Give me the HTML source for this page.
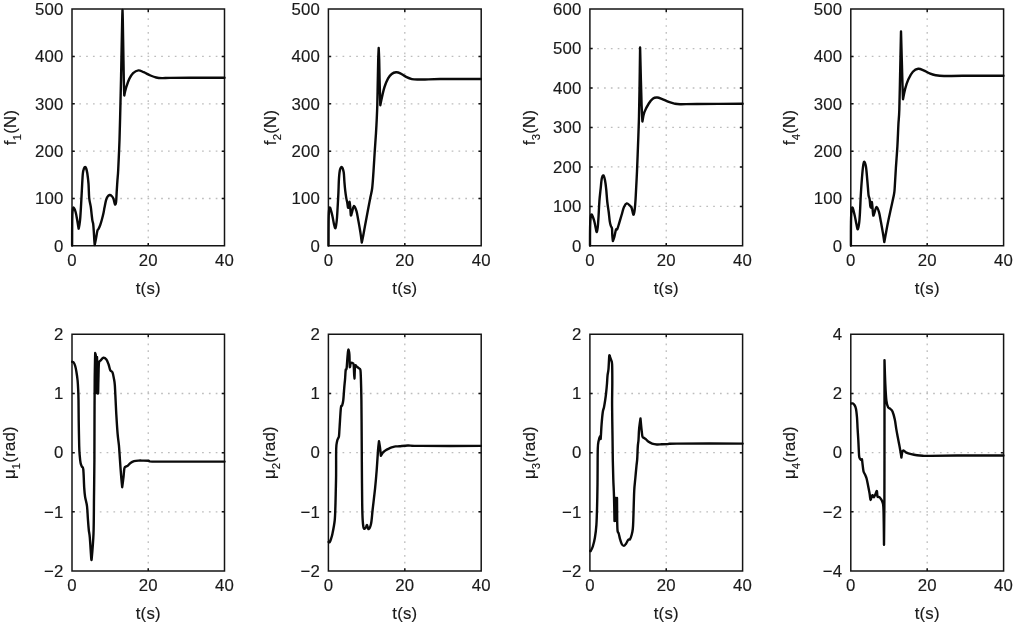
<!DOCTYPE html>
<html><head><meta charset="utf-8"><title>Figure</title>
<style>html,body{margin:0;padding:0;background:#fff;overflow:hidden}svg{display:block;filter:grayscale(1)}</style>
</head><body>
<svg width="1013" height="623" viewBox="0 0 1013 623">
<rect width="1013" height="623" fill="#fff"/>
<path d="M72.00 198.50H224.50M72.00 151.15H224.50M72.00 103.80H224.50M72.00 56.45H224.50M328.40 198.50H481.20M328.40 151.15H481.20M328.40 103.80H481.20M328.40 56.45H481.20M589.90 206.39H742.60M589.90 166.93H742.60M589.90 127.47H742.60M589.90 88.02H742.60M589.90 48.56H742.60M850.80 198.50H1003.60M850.80 151.15H1003.60M850.80 103.80H1003.60M850.80 56.45H1003.60M72.00 511.82H224.50M72.00 452.65H224.50M72.00 393.48H224.50M328.40 511.82H481.20M328.40 452.65H481.20M328.40 393.48H481.20M589.90 511.82H742.60M589.90 452.65H742.60M589.90 393.48H742.60M850.80 511.82H1003.60M850.80 452.65H1003.60M850.80 393.48H1003.60" stroke="#bdbdbd" stroke-width="1.3" stroke-dasharray="1.7 5.12" stroke-dashoffset="-0.5" fill="none"/>
<path d="M148.25 9.10V245.85M404.80 9.10V245.85M666.25 9.10V245.85M927.20 9.10V245.85M148.25 334.30V571.00M404.80 334.30V571.00M666.25 334.30V571.00M927.20 334.30V571.00" stroke="#bdbdbd" stroke-width="1.3" stroke-dasharray="1.7 5.12" stroke-dashoffset="4.4" fill="none"/>
<path d="M72.00 9.10H224.50V245.85H72.00ZM328.40 9.10H481.20V245.85H328.40ZM589.90 9.10H742.60V245.85H589.90ZM850.80 9.10H1003.60V245.85H850.80ZM72.00 334.30H224.50V571.00H72.00ZM328.40 334.30H481.20V571.00H328.40ZM589.90 334.30H742.60V571.00H589.90ZM850.80 334.30H1003.60V571.00H850.80Z" stroke="#141414" stroke-width="1.5" fill="none"/>
<path d="M148.25 245.85v-2.8M148.25 9.10v2.8M72.00 198.50h2.8M224.50 198.50h-2.8M72.00 151.15h2.8M224.50 151.15h-2.8M72.00 103.80h2.8M224.50 103.80h-2.8M72.00 56.45h2.8M224.50 56.45h-2.8M404.80 245.85v-2.8M404.80 9.10v2.8M328.40 198.50h2.8M481.20 198.50h-2.8M328.40 151.15h2.8M481.20 151.15h-2.8M328.40 103.80h2.8M481.20 103.80h-2.8M328.40 56.45h2.8M481.20 56.45h-2.8M666.25 245.85v-2.8M666.25 9.10v2.8M589.90 206.39h2.8M742.60 206.39h-2.8M589.90 166.93h2.8M742.60 166.93h-2.8M589.90 127.47h2.8M742.60 127.47h-2.8M589.90 88.02h2.8M742.60 88.02h-2.8M589.90 48.56h2.8M742.60 48.56h-2.8M927.20 245.85v-2.8M927.20 9.10v2.8M850.80 198.50h2.8M1003.60 198.50h-2.8M850.80 151.15h2.8M1003.60 151.15h-2.8M850.80 103.80h2.8M1003.60 103.80h-2.8M850.80 56.45h2.8M1003.60 56.45h-2.8M148.25 571.00v-2.8M148.25 334.30v2.8M72.00 511.82h2.8M224.50 511.82h-2.8M72.00 452.65h2.8M224.50 452.65h-2.8M72.00 393.48h2.8M224.50 393.48h-2.8M404.80 571.00v-2.8M404.80 334.30v2.8M328.40 511.82h2.8M481.20 511.82h-2.8M328.40 452.65h2.8M481.20 452.65h-2.8M328.40 393.48h2.8M481.20 393.48h-2.8M666.25 571.00v-2.8M666.25 334.30v2.8M589.90 511.82h2.8M742.60 511.82h-2.8M589.90 452.65h2.8M742.60 452.65h-2.8M589.90 393.48h2.8M742.60 393.48h-2.8M927.20 571.00v-2.8M927.20 334.30v2.8M850.80 511.82h2.8M1003.60 511.82h-2.8M850.80 452.65h2.8M1003.60 452.65h-2.8M850.80 393.48h2.8M1003.60 393.48h-2.8" stroke="#141414" stroke-width="1.5" fill="none"/>
<path d="M72.10 245.50C72.10 245.50 72.12 227.75 72.20 222.00C72.28 216.25 72.37 213.40 72.60 211.00C72.83 208.60 73.10 207.43 73.60 207.60C74.10 207.77 75.00 209.93 75.60 212.00C76.20 214.07 76.73 217.45 77.20 220.00C77.67 222.55 78.13 225.95 78.40 227.30C78.67 228.65 78.53 229.20 78.80 228.10C79.07 227.00 79.65 224.08 80.00 220.70C80.35 217.32 80.63 212.08 80.90 207.80C81.17 203.52 81.28 200.63 81.60 195.00C81.92 189.37 82.40 178.42 82.80 174.00C83.20 169.58 83.60 169.67 84.00 168.50C84.40 167.33 84.83 167.00 85.20 167.00C85.57 167.00 85.85 167.45 86.20 168.50C86.55 169.55 86.92 170.77 87.30 173.30C87.68 175.83 88.18 179.58 88.50 183.70C88.82 187.82 88.82 194.12 89.20 198.00C89.58 201.88 90.38 204.17 90.80 207.00C91.22 209.83 91.43 212.73 91.70 215.00C91.97 217.27 92.15 219.10 92.40 220.60C92.65 222.10 92.97 222.18 93.20 224.00C93.43 225.82 93.62 228.83 93.80 231.50C93.98 234.17 94.15 237.75 94.30 240.00C94.45 242.25 94.70 245.00 94.70 245.00C94.70 245.00 95.55 240.98 96.00 238.60C96.45 236.22 96.98 232.30 97.40 230.70C97.82 229.10 98.03 229.93 98.50 229.00C98.97 228.07 99.63 226.68 100.20 225.10C100.77 223.52 101.35 221.52 101.90 219.50C102.45 217.48 103.07 214.98 103.50 213.00C103.93 211.02 104.08 209.70 104.50 207.60C104.92 205.50 105.52 202.20 106.00 200.40C106.48 198.60 106.80 197.70 107.40 196.80C108.00 195.90 108.88 195.13 109.60 195.00C110.32 194.87 111.05 195.35 111.70 196.00C112.35 196.65 112.95 197.48 113.50 198.90C114.05 200.32 114.57 204.02 115.00 204.50C115.43 204.98 115.82 203.93 116.10 201.80C116.38 199.67 116.48 195.20 116.70 191.70C116.92 188.20 117.15 184.42 117.40 180.80C117.65 177.18 117.85 176.80 118.20 170.00C118.55 163.20 119.15 150.00 119.50 140.00C119.85 130.00 120.05 120.00 120.30 110.00C120.55 100.00 120.78 90.00 121.00 80.00C121.22 70.00 121.40 60.00 121.60 50.00C121.80 40.00 122.05 26.67 122.20 20.00C122.35 13.33 122.50 10.00 122.50 10.00C122.50 10.00 122.67 13.33 122.80 20.00C122.93 26.67 123.13 40.00 123.30 50.00C123.47 60.00 123.63 72.42 123.80 80.00C123.97 87.58 124.30 95.50 124.30 95.50C124.30 95.50 124.65 93.48 125.00 92.00C125.35 90.52 125.68 88.78 126.40 86.60C127.12 84.42 128.18 81.15 129.30 78.90C130.42 76.65 131.58 74.52 133.10 73.10C134.62 71.68 136.63 70.55 138.40 70.40C140.17 70.25 141.68 71.35 143.70 72.20C145.72 73.05 148.42 74.62 150.50 75.50C152.58 76.38 154.28 77.07 156.20 77.50C158.12 77.93 159.70 78.03 162.00 78.10C164.30 78.17 165.33 77.97 170.00 77.90C174.67 77.83 180.92 77.73 190.00 77.70C199.08 77.67 218.75 77.70 224.50 77.70M328.50 245.50C328.50 245.50 328.52 227.75 328.60 222.00C328.68 216.25 328.75 213.38 329.00 211.00C329.25 208.62 329.53 206.87 330.10 207.70C330.67 208.53 331.75 213.27 332.40 216.00C333.05 218.73 333.48 222.08 334.00 224.10C334.52 226.12 335.03 228.78 335.50 228.10C335.97 227.42 336.45 223.35 336.80 220.00C337.15 216.65 337.33 212.50 337.60 208.00C337.87 203.50 338.17 197.98 338.40 193.00C338.63 188.02 338.72 182.03 339.00 178.10C339.28 174.17 339.62 171.22 340.10 169.40C340.58 167.58 341.30 166.72 341.90 167.20C342.50 167.68 343.28 169.88 343.70 172.30C344.12 174.72 344.15 178.68 344.40 181.70C344.65 184.72 344.90 187.75 345.20 190.40C345.50 193.05 345.85 195.50 346.20 197.60C346.55 199.70 347.00 201.35 347.30 203.00C347.60 204.65 347.73 206.83 348.00 207.50C348.27 208.17 348.63 207.95 348.90 207.00C349.17 206.05 349.37 201.63 349.60 201.80C349.83 201.97 350.08 205.72 350.30 208.00C350.52 210.28 350.58 214.92 350.90 215.50C351.22 216.08 351.68 213.08 352.20 211.50C352.72 209.92 353.28 206.05 354.00 206.00C354.72 205.95 355.77 208.72 356.50 211.20C357.23 213.68 357.75 217.37 358.40 220.90C359.05 224.43 359.83 228.78 360.40 232.40C360.97 236.02 361.80 242.60 361.80 242.60C361.80 242.60 362.73 238.28 363.30 235.30C363.87 232.32 364.40 229.03 365.20 224.70C366.00 220.37 367.22 213.95 368.10 209.30C368.98 204.65 369.82 200.35 370.50 196.80C371.18 193.25 371.70 192.25 372.20 188.00C372.70 183.75 373.08 177.30 373.50 171.30C373.92 165.30 374.28 158.42 374.70 152.00C375.12 145.58 375.67 138.13 376.00 132.80C376.33 127.47 376.48 124.63 376.70 120.00C376.92 115.37 377.12 111.67 377.30 105.00C377.48 98.33 377.65 87.50 377.80 80.00C377.95 72.50 378.05 65.33 378.20 60.00C378.35 54.67 378.70 48.00 378.70 48.00C378.70 48.00 379.05 54.67 379.20 60.00C379.35 65.33 379.42 72.47 379.60 80.00C379.78 87.53 380.30 105.20 380.30 105.20C380.30 105.20 381.60 98.73 382.30 95.70C383.00 92.67 383.53 89.88 384.50 87.00C385.47 84.12 386.90 80.57 388.10 78.40C389.30 76.23 390.38 75.02 391.70 74.00C393.02 72.98 394.57 72.42 396.00 72.30C397.43 72.18 398.62 72.53 400.30 73.30C401.98 74.07 404.17 75.93 406.10 76.90C408.03 77.87 409.75 78.67 411.90 79.10C414.05 79.53 416.82 79.43 419.00 79.50C421.18 79.57 421.50 79.58 425.00 79.50C428.50 79.42 430.68 79.08 440.00 79.00C449.32 78.92 474.08 79.00 480.90 79.00M590.00 245.50C590.00 245.50 590.00 232.58 590.10 228.00C590.20 223.42 590.33 220.25 590.60 218.00C590.87 215.75 591.10 214.02 591.70 214.50C592.30 214.98 593.53 218.63 594.20 220.90C594.87 223.17 595.27 226.23 595.70 228.10C596.13 229.97 596.45 232.33 596.80 232.10C597.15 231.87 597.50 229.47 597.80 226.70C598.10 223.93 598.33 219.77 598.60 215.50C598.87 211.23 599.07 205.50 599.40 201.10C599.73 196.70 600.20 192.85 600.60 189.10C601.00 185.35 601.33 180.88 601.80 178.60C602.27 176.32 602.87 175.13 603.40 175.40C603.93 175.67 604.53 177.92 605.00 180.20C605.47 182.48 605.82 185.47 606.20 189.10C606.58 192.73 606.88 198.18 607.30 202.00C607.72 205.82 608.28 208.73 608.70 212.00C609.12 215.27 609.43 219.27 609.80 221.60C610.17 223.93 610.53 224.85 610.90 226.00C611.27 227.15 611.77 226.93 612.00 228.50C612.23 230.07 612.15 233.32 612.30 235.40C612.45 237.48 612.90 241.00 612.90 241.00C612.90 241.00 613.88 238.62 614.40 236.70C614.92 234.78 615.53 230.73 616.00 229.50C616.47 228.27 616.67 230.37 617.20 229.30C617.73 228.23 618.47 225.48 619.20 223.10C619.93 220.72 620.80 217.68 621.60 215.00C622.40 212.32 623.13 208.93 624.00 207.00C624.87 205.07 625.87 203.67 626.80 203.40C627.73 203.13 628.80 204.67 629.60 205.40C630.40 206.13 630.98 206.27 631.60 207.80C632.22 209.33 632.82 214.07 633.30 214.60C633.78 215.13 634.17 212.93 634.50 211.00C634.83 209.07 635.08 205.67 635.30 203.00C635.52 200.33 635.52 200.28 635.80 195.00C636.08 189.72 636.63 179.53 637.00 171.30C637.37 163.07 637.68 154.15 638.00 145.60C638.32 137.05 638.65 129.27 638.90 120.00C639.15 110.73 639.30 102.08 639.50 90.00C639.70 77.92 640.10 47.50 640.10 47.50C640.10 47.50 640.65 70.42 640.90 80.00C641.15 89.58 641.35 98.08 641.60 105.00C641.85 111.92 642.40 121.50 642.40 121.50C642.40 121.50 643.33 115.20 644.40 112.20C645.47 109.20 647.35 105.80 648.80 103.50C650.25 101.20 651.70 99.40 653.10 98.40C654.50 97.40 655.68 97.38 657.20 97.50C658.72 97.62 660.27 98.37 662.20 99.10C664.13 99.83 666.77 101.15 668.80 101.90C670.83 102.65 672.53 103.22 674.40 103.60C676.27 103.98 676.23 104.13 680.00 104.20C683.77 104.27 686.57 104.07 697.00 104.00C707.43 103.93 735.00 103.83 742.60 103.80M850.90 245.50C850.90 245.50 850.90 227.75 851.00 222.00C851.10 216.25 851.23 213.38 851.50 211.00C851.77 208.62 852.05 206.87 852.60 207.70C853.15 208.53 854.17 213.27 854.80 216.00C855.43 218.73 855.90 221.88 856.40 224.10C856.90 226.32 857.33 229.57 857.80 229.30C858.27 229.03 858.83 225.38 859.20 222.50C859.57 219.62 859.73 216.58 860.00 212.00C860.27 207.42 860.47 200.75 860.80 195.00C861.13 189.25 861.60 182.43 862.00 177.50C862.40 172.57 862.80 168.02 863.20 165.40C863.60 162.78 863.93 161.53 864.40 161.80C864.87 162.07 865.53 164.12 866.00 167.00C866.47 169.88 866.87 175.48 867.20 179.10C867.53 182.72 867.77 185.97 868.00 188.70C868.23 191.43 868.33 193.78 868.60 195.50C868.87 197.22 869.32 197.25 869.60 199.00C869.88 200.75 870.03 204.58 870.30 206.00C870.57 207.42 870.93 208.17 871.20 207.50C871.47 206.83 871.67 201.75 871.90 202.00C872.13 202.25 872.37 206.75 872.60 209.00C872.83 211.25 872.97 214.97 873.30 215.50C873.63 216.03 874.05 213.63 874.60 212.20C875.15 210.77 875.87 206.90 876.60 206.90C877.33 206.90 878.28 209.72 879.00 212.20C879.72 214.68 880.27 218.43 880.90 221.80C881.53 225.17 882.23 229.02 882.80 232.40C883.37 235.78 884.30 242.10 884.30 242.10C884.30 242.10 885.07 237.78 885.70 234.40C886.33 231.02 887.22 226.15 888.10 221.80C888.98 217.45 890.03 212.80 891.00 208.30C891.97 203.80 893.28 198.18 893.90 194.80C894.52 191.42 894.37 192.50 894.70 188.00C895.03 183.50 895.45 174.78 895.90 167.80C896.35 160.82 896.98 153.32 897.40 146.10C897.82 138.88 898.08 130.52 898.40 124.50C898.72 118.48 899.00 119.08 899.30 110.00C899.60 100.92 899.92 83.08 900.20 70.00C900.48 56.92 901.00 31.50 901.00 31.50C901.00 31.50 901.55 51.08 901.80 60.00C902.05 68.92 902.30 78.45 902.50 85.00C902.70 91.55 903.00 99.30 903.00 99.30C903.00 99.30 904.32 91.90 905.20 88.60C906.08 85.30 907.02 82.30 908.30 79.50C909.58 76.70 911.25 73.58 912.90 71.80C914.55 70.02 916.43 69.05 918.20 68.80C919.97 68.55 921.60 69.53 923.50 70.30C925.40 71.07 927.57 72.58 929.60 73.40C931.63 74.22 933.30 74.77 935.70 75.20C938.10 75.63 939.52 75.90 944.00 76.00C948.48 76.10 952.70 75.83 962.60 75.80C972.50 75.77 996.60 75.80 1003.40 75.80M72.20 361.80C72.43 361.90 73.10 361.70 73.60 362.40C74.10 363.10 74.73 364.45 75.20 366.00C75.67 367.55 76.00 369.28 76.40 371.70C76.80 374.12 77.30 377.45 77.60 380.50C77.90 383.55 78.05 386.75 78.20 390.00C78.35 393.25 78.42 395.00 78.50 400.00C78.58 405.00 78.58 412.33 78.70 420.00C78.82 427.67 79.03 440.10 79.20 446.00C79.37 451.90 79.47 452.57 79.70 455.40C79.93 458.23 80.25 461.15 80.60 463.00C80.95 464.85 81.35 465.42 81.80 466.50C82.25 467.58 82.90 465.97 83.30 469.50C83.70 473.03 83.90 483.13 84.20 487.70C84.50 492.27 84.63 493.83 85.10 496.90C85.57 499.97 86.53 502.42 87.00 506.10C87.47 509.78 87.60 515.00 87.90 519.00C88.20 523.00 88.48 527.02 88.80 530.10C89.12 533.18 89.40 532.88 89.80 537.50C90.20 542.12 90.90 554.12 91.20 557.80C91.50 561.48 91.60 559.60 91.60 559.60C91.60 559.60 93.10 544.25 93.50 533.80C93.90 523.35 93.85 509.20 94.00 496.90C94.15 484.60 94.32 472.82 94.40 460.00C94.48 447.18 94.45 433.33 94.50 420.00C94.55 406.67 94.58 391.17 94.70 380.00C94.82 368.83 95.20 353.00 95.20 353.00C95.20 353.00 95.97 353.33 96.20 360.00C96.43 366.67 96.60 393.00 96.60 393.00C96.60 393.00 97.00 357.00 97.00 357.00C97.00 357.00 97.42 368.90 97.60 375.00C97.78 381.10 98.10 393.60 98.10 393.60C98.10 393.60 98.35 380.15 98.50 375.00C98.65 369.85 98.65 365.12 99.00 362.70C99.35 360.28 99.88 361.32 100.60 360.50C101.32 359.68 102.33 357.95 103.30 357.80C104.27 357.65 105.52 358.48 106.40 359.60C107.28 360.72 107.95 362.73 108.60 364.50C109.25 366.27 109.65 368.88 110.30 370.20C110.95 371.52 111.90 371.00 112.50 372.40C113.10 373.80 113.52 376.53 113.90 378.60C114.28 380.67 114.52 381.23 114.80 384.80C115.08 388.37 115.35 395.08 115.60 400.00C115.85 404.92 115.97 408.70 116.30 414.30C116.63 419.90 117.17 428.48 117.60 433.60C118.03 438.72 118.58 441.73 118.90 445.00C119.22 448.27 119.25 449.62 119.50 453.20C119.75 456.78 120.10 462.37 120.40 466.50C120.70 470.63 121.00 474.55 121.30 478.00C121.60 481.45 122.20 487.20 122.20 487.20C122.20 487.20 123.13 480.27 123.50 477.10C123.87 473.93 123.97 469.97 124.40 468.20C124.83 466.43 125.52 466.93 126.10 466.50C126.68 466.07 127.17 466.18 127.90 465.60C128.63 465.02 129.47 463.73 130.50 463.00C131.53 462.27 132.77 461.60 134.10 461.20C135.43 460.80 137.03 460.70 138.50 460.60C139.97 460.50 141.23 460.57 142.90 460.60C144.57 460.63 146.15 460.63 148.50 460.80C150.85 460.97 144.33 461.47 157.00 461.60C169.67 461.73 213.25 461.60 224.50 461.60M328.60 542.00C328.77 542.03 329.20 542.70 329.60 542.20C330.00 541.70 330.52 540.45 331.00 539.00C331.48 537.55 331.88 536.58 332.50 533.50C333.12 530.42 334.22 525.07 334.70 520.50C335.18 515.93 335.22 511.18 335.40 506.10C335.58 501.02 335.68 495.20 335.80 490.00C335.92 484.80 336.03 481.77 336.10 474.90C336.17 468.03 336.03 454.42 336.20 448.80C336.37 443.18 336.75 443.00 337.10 441.20C337.45 439.40 337.98 438.87 338.30 438.00C338.62 437.13 338.78 437.83 339.00 436.00C339.22 434.17 339.28 431.70 339.60 427.00C339.92 422.30 340.47 411.42 340.90 407.80C341.33 404.18 341.80 406.60 342.20 405.30C342.60 404.00 342.97 402.83 343.30 400.00C343.63 397.17 343.90 391.87 344.20 388.30C344.50 384.73 344.85 381.65 345.10 378.60C345.35 375.55 345.45 371.70 345.70 370.00C345.95 368.30 346.33 370.18 346.60 368.40C346.87 366.62 347.07 362.10 347.30 359.30C347.53 356.50 347.80 353.22 348.00 351.60C348.20 349.98 348.50 349.60 348.50 349.60C348.50 349.60 349.18 351.60 349.40 354.50C349.62 357.40 349.57 365.57 349.80 367.00C350.03 368.43 350.32 363.75 350.80 363.10C351.28 362.45 352.22 362.77 352.70 363.10C353.18 363.43 353.42 362.52 353.70 365.10C353.98 367.68 354.17 378.45 354.40 378.60C354.63 378.75 354.73 368.02 355.10 366.00C355.47 363.98 355.95 366.10 356.60 366.50C357.25 366.90 358.37 367.83 359.00 368.40C359.63 368.97 360.08 368.20 360.40 369.90C360.72 371.60 360.73 373.58 360.90 378.60C361.07 383.62 361.27 389.77 361.40 400.00C361.53 410.23 361.62 428.00 361.70 440.00C361.78 452.00 361.82 461.33 361.90 472.00C361.98 482.67 362.07 495.95 362.20 504.00C362.33 512.05 362.43 516.25 362.70 520.30C362.97 524.35 363.27 527.10 363.80 528.30C364.33 529.50 365.37 528.03 365.90 527.50C366.43 526.97 366.55 524.83 367.00 525.10C367.45 525.37 367.92 529.37 368.60 529.10C369.28 528.83 370.42 526.85 371.10 523.50C371.78 520.15 372.03 514.88 372.70 509.00C373.37 503.12 374.43 494.70 375.10 488.20C375.77 481.70 376.22 476.25 376.70 470.00C377.18 463.75 377.62 455.52 378.00 450.70C378.38 445.88 379.00 441.10 379.00 441.10C379.00 441.10 379.68 445.05 380.00 447.50C380.32 449.95 380.90 455.80 380.90 455.80C380.90 455.80 381.93 453.57 382.80 452.60C383.67 451.63 385.02 450.70 386.10 450.00C387.18 449.30 388.23 448.87 389.30 448.40C390.37 447.93 391.43 447.53 392.50 447.20C393.57 446.87 394.57 446.55 395.70 446.40C396.83 446.25 397.27 446.45 399.30 446.30C401.33 446.15 404.32 445.57 407.90 445.50C411.48 445.43 408.63 445.83 420.80 445.90C432.97 445.97 470.88 445.90 480.90 445.90M590.20 551.00C590.30 550.97 590.37 551.55 590.80 550.80C591.23 550.05 592.12 548.67 592.80 546.50C593.48 544.33 594.30 541.42 594.90 537.80C595.50 534.18 596.03 530.08 596.40 524.80C596.77 519.52 596.92 512.83 597.10 506.10C597.28 499.37 597.42 490.42 597.50 484.40C597.58 478.38 597.55 476.03 597.60 470.00C597.65 463.97 597.63 453.03 597.80 448.20C597.97 443.37 598.20 443.02 598.60 441.00C599.00 438.98 599.85 436.50 600.20 436.10C600.55 435.70 600.47 440.60 600.70 438.60C600.93 436.60 601.25 428.53 601.60 424.10C601.95 419.67 602.40 414.82 602.80 412.00C603.20 409.18 603.60 409.20 604.00 407.20C604.40 405.20 604.85 402.35 605.20 400.00C605.55 397.65 605.80 395.85 606.10 393.10C606.40 390.35 606.77 386.38 607.00 383.50C607.23 380.62 607.25 378.22 607.50 375.80C607.75 373.38 608.22 372.22 608.50 369.00C608.78 365.78 609.02 358.73 609.20 356.50C609.38 354.27 609.60 355.60 609.60 355.60C609.60 355.60 610.48 357.97 610.90 359.40C611.32 360.83 611.87 360.18 612.10 364.20C612.33 368.22 612.30 376.70 612.30 383.50C612.30 390.30 612.07 396.23 612.10 405.00C612.13 413.77 612.38 426.93 612.50 436.10C612.62 445.27 612.67 452.82 612.80 460.00C612.93 467.18 613.10 473.12 613.30 479.20C613.50 485.28 613.80 489.53 614.00 496.50C614.20 503.47 614.50 521.00 614.50 521.00C614.50 521.00 615.50 498.00 615.50 498.00C615.50 498.00 616.20 521.00 616.20 521.00C616.20 521.00 617.00 498.00 617.00 498.00C617.00 498.00 617.20 521.50 617.20 521.50C617.20 521.50 617.35 529.00 617.60 531.00C617.85 533.00 618.32 532.23 618.70 533.50C619.08 534.77 619.42 536.90 619.90 538.60C620.38 540.30 620.95 542.48 621.60 543.70C622.25 544.92 623.07 545.90 623.80 545.90C624.53 545.90 625.25 544.73 626.00 543.70C626.75 542.67 627.63 540.45 628.30 539.70C628.97 538.95 629.43 540.03 630.00 539.20C630.57 538.37 631.23 536.40 631.70 534.70C632.17 533.00 632.53 531.45 632.80 529.00C633.07 526.55 633.07 526.28 633.30 520.00C633.53 513.72 633.87 498.22 634.20 491.30C634.53 484.38 634.92 482.78 635.30 478.50C635.68 474.22 636.18 468.82 636.50 465.60C636.82 462.38 636.98 462.40 637.20 459.20C637.42 456.00 637.58 449.60 637.80 446.40C638.02 443.20 638.28 442.88 638.50 440.00C638.72 437.12 638.77 432.68 639.10 429.10C639.43 425.52 640.50 418.50 640.50 418.50C640.50 418.50 641.17 426.05 641.50 429.10C641.83 432.15 642.10 435.35 642.50 436.80C642.90 438.25 643.35 437.40 643.90 437.80C644.45 438.20 645.08 438.57 645.80 439.20C646.52 439.83 647.15 440.87 648.20 441.60C649.25 442.33 650.65 443.12 652.10 443.60C653.55 444.08 655.30 444.38 656.90 444.50C658.50 444.62 659.85 444.38 661.70 444.30C663.55 444.22 665.48 444.12 668.00 444.00C670.52 443.88 664.37 443.67 676.80 443.60C689.23 443.53 731.63 443.60 742.60 443.60M851.40 403.50C851.58 403.48 852.03 403.22 852.50 403.40C852.97 403.58 853.63 403.75 854.20 404.60C854.77 405.45 855.43 406.35 855.90 408.50C856.37 410.65 856.72 414.13 857.00 417.50C857.28 420.87 857.38 424.95 857.60 428.70C857.82 432.45 858.10 436.38 858.30 440.00C858.50 443.62 858.63 447.53 858.80 450.40C858.97 453.27 858.95 455.63 859.30 457.20C859.65 458.77 860.47 459.45 860.90 459.80C861.33 460.15 861.65 458.78 861.90 459.30C862.15 459.82 862.13 460.90 862.40 462.90C862.67 464.90 863.07 469.38 863.50 471.30C863.93 473.22 864.48 473.20 865.00 474.40C865.52 475.60 866.08 476.60 866.60 478.50C867.12 480.40 867.58 483.18 868.10 485.80C868.62 488.42 869.30 491.85 869.70 494.20C870.10 496.55 870.07 499.73 870.50 499.90C870.93 500.07 871.73 495.63 872.30 495.20C872.87 494.77 873.38 497.47 873.90 497.30C874.42 497.13 874.90 495.25 875.40 494.20C875.90 493.15 876.55 490.60 876.90 491.00C877.25 491.40 877.12 495.58 877.50 496.60C877.88 497.62 878.65 496.73 879.20 497.10C879.75 497.47 880.25 497.95 880.80 498.80C881.35 499.65 882.05 500.33 882.50 502.20C882.95 504.07 883.25 502.92 883.50 510.00C883.75 517.08 884.00 544.70 884.00 544.70C884.00 544.70 884.32 520.78 884.40 500.00C884.48 479.22 884.48 443.32 884.50 420.00C884.52 396.68 884.50 360.10 884.50 360.10C884.50 360.10 884.98 376.95 885.30 383.70C885.62 390.45 885.93 396.67 886.40 400.60C886.87 404.53 887.43 405.90 888.10 407.30C888.77 408.70 889.65 408.25 890.40 409.00C891.15 409.75 891.87 410.05 892.60 411.80C893.33 413.55 894.18 416.62 894.80 419.50C895.42 422.38 895.82 426.22 896.30 429.10C896.78 431.98 897.22 434.23 897.70 436.80C898.18 439.37 898.72 441.93 899.20 444.50C899.68 447.07 900.23 450.03 900.60 452.20C900.97 454.37 901.40 457.50 901.40 457.50C901.40 457.50 902.07 452.42 902.50 451.30C902.93 450.18 903.35 450.57 904.00 450.80C904.65 451.03 905.20 452.13 906.40 452.70C907.60 453.27 909.43 453.77 911.20 454.20C912.97 454.63 915.07 455.03 917.00 455.30C918.93 455.57 920.63 455.70 922.80 455.80C924.97 455.90 923.47 455.95 930.00 455.90C936.53 455.85 949.77 455.57 962.00 455.50C974.23 455.43 996.50 455.50 1003.40 455.50" stroke="#0a0a0a" stroke-width="2.4" fill="none" stroke-linejoin="round" stroke-linecap="round"/>
<g font-family="Liberation Sans, sans-serif" font-size="16.8" fill="#1a1a1a" stroke="#1a1a1a" stroke-width="0.15" letter-spacing="0.2">
<text x="72.00" y="266.15" text-anchor="middle">0</text>
<text x="148.25" y="266.15" text-anchor="middle">20</text>
<text x="224.50" y="266.15" text-anchor="middle">40</text>
<text x="63.60" y="251.55" text-anchor="end">0</text>
<text x="63.60" y="204.20" text-anchor="end">100</text>
<text x="63.60" y="156.85" text-anchor="end">200</text>
<text x="63.60" y="109.50" text-anchor="end">300</text>
<text x="63.60" y="62.15" text-anchor="end">400</text>
<text x="63.60" y="14.80" text-anchor="end">500</text>
<text x="148.25" y="294.05" text-anchor="middle">t(s)</text>
<text transform="translate(16.20 127.47) rotate(-90)" text-anchor="middle">f<tspan font-size="11.4" dy="5.0">1</tspan><tspan dy="-5.0">(N)</tspan></text>
<text x="328.40" y="266.15" text-anchor="middle">0</text>
<text x="404.80" y="266.15" text-anchor="middle">20</text>
<text x="481.20" y="266.15" text-anchor="middle">40</text>
<text x="320.00" y="251.55" text-anchor="end">0</text>
<text x="320.00" y="204.20" text-anchor="end">100</text>
<text x="320.00" y="156.85" text-anchor="end">200</text>
<text x="320.00" y="109.50" text-anchor="end">300</text>
<text x="320.00" y="62.15" text-anchor="end">400</text>
<text x="320.00" y="14.80" text-anchor="end">500</text>
<text x="404.80" y="294.05" text-anchor="middle">t(s)</text>
<text transform="translate(275.60 127.47) rotate(-90)" text-anchor="middle">f<tspan font-size="11.4" dy="5.0">2</tspan><tspan dy="-5.0">(N)</tspan></text>
<text x="589.90" y="266.15" text-anchor="middle">0</text>
<text x="666.25" y="266.15" text-anchor="middle">20</text>
<text x="742.60" y="266.15" text-anchor="middle">40</text>
<text x="581.50" y="251.55" text-anchor="end">0</text>
<text x="581.50" y="212.09" text-anchor="end">100</text>
<text x="581.50" y="172.63" text-anchor="end">200</text>
<text x="581.50" y="133.17" text-anchor="end">300</text>
<text x="581.50" y="93.72" text-anchor="end">400</text>
<text x="581.50" y="54.26" text-anchor="end">500</text>
<text x="581.50" y="14.80" text-anchor="end">600</text>
<text x="666.25" y="294.05" text-anchor="middle">t(s)</text>
<text transform="translate(535.00 127.47) rotate(-90)" text-anchor="middle">f<tspan font-size="11.4" dy="5.0">3</tspan><tspan dy="-5.0">(N)</tspan></text>
<text x="850.80" y="266.15" text-anchor="middle">0</text>
<text x="927.20" y="266.15" text-anchor="middle">20</text>
<text x="1003.60" y="266.15" text-anchor="middle">40</text>
<text x="842.40" y="251.55" text-anchor="end">0</text>
<text x="842.40" y="204.20" text-anchor="end">100</text>
<text x="842.40" y="156.85" text-anchor="end">200</text>
<text x="842.40" y="109.50" text-anchor="end">300</text>
<text x="842.40" y="62.15" text-anchor="end">400</text>
<text x="842.40" y="14.80" text-anchor="end">500</text>
<text x="927.20" y="294.05" text-anchor="middle">t(s)</text>
<text transform="translate(795.40 127.47) rotate(-90)" text-anchor="middle">f<tspan font-size="11.4" dy="5.0">4</tspan><tspan dy="-5.0">(N)</tspan></text>
<text x="72.00" y="591.30" text-anchor="middle">0</text>
<text x="148.25" y="591.30" text-anchor="middle">20</text>
<text x="224.50" y="591.30" text-anchor="middle">40</text>
<text x="63.60" y="576.70" text-anchor="end">−2</text>
<text x="63.60" y="517.52" text-anchor="end">−1</text>
<text x="63.60" y="458.35" text-anchor="end">0</text>
<text x="63.60" y="399.18" text-anchor="end">1</text>
<text x="63.60" y="340.00" text-anchor="end">2</text>
<text x="148.25" y="619.20" text-anchor="middle">t(s)</text>
<text transform="translate(14.70 452.65) rotate(-90)" text-anchor="middle">μ<tspan font-size="11.4" dy="5.0">1</tspan><tspan dy="-5.0">(rad)</tspan></text>
<text x="328.40" y="591.30" text-anchor="middle">0</text>
<text x="404.80" y="591.30" text-anchor="middle">20</text>
<text x="481.20" y="591.30" text-anchor="middle">40</text>
<text x="320.00" y="576.70" text-anchor="end">−2</text>
<text x="320.00" y="517.52" text-anchor="end">−1</text>
<text x="320.00" y="458.35" text-anchor="end">0</text>
<text x="320.00" y="399.18" text-anchor="end">1</text>
<text x="320.00" y="340.00" text-anchor="end">2</text>
<text x="404.80" y="619.20" text-anchor="middle">t(s)</text>
<text transform="translate(275.00 452.65) rotate(-90)" text-anchor="middle">μ<tspan font-size="11.4" dy="5.0">2</tspan><tspan dy="-5.0">(rad)</tspan></text>
<text x="589.90" y="591.30" text-anchor="middle">0</text>
<text x="666.25" y="591.30" text-anchor="middle">20</text>
<text x="742.60" y="591.30" text-anchor="middle">40</text>
<text x="581.50" y="576.70" text-anchor="end">−2</text>
<text x="581.50" y="517.52" text-anchor="end">−1</text>
<text x="581.50" y="458.35" text-anchor="end">0</text>
<text x="581.50" y="399.18" text-anchor="end">1</text>
<text x="581.50" y="340.00" text-anchor="end">2</text>
<text x="666.25" y="619.20" text-anchor="middle">t(s)</text>
<text transform="translate(534.80 452.65) rotate(-90)" text-anchor="middle">μ<tspan font-size="11.4" dy="5.0">3</tspan><tspan dy="-5.0">(rad)</tspan></text>
<text x="850.80" y="591.30" text-anchor="middle">0</text>
<text x="927.20" y="591.30" text-anchor="middle">20</text>
<text x="1003.60" y="591.30" text-anchor="middle">40</text>
<text x="842.40" y="576.70" text-anchor="end">−4</text>
<text x="842.40" y="517.52" text-anchor="end">−2</text>
<text x="842.40" y="458.35" text-anchor="end">0</text>
<text x="842.40" y="399.18" text-anchor="end">2</text>
<text x="842.40" y="340.00" text-anchor="end">4</text>
<text x="927.20" y="619.20" text-anchor="middle">t(s)</text>
<text transform="translate(795.30 452.65) rotate(-90)" text-anchor="middle">μ<tspan font-size="11.4" dy="5.0">4</tspan><tspan dy="-5.0">(rad)</tspan></text>
</g>
</svg>
</body></html>
